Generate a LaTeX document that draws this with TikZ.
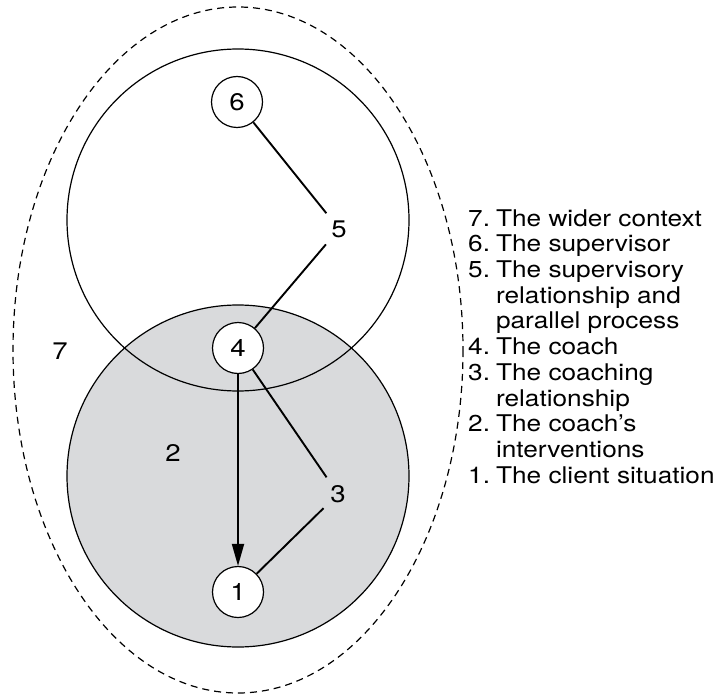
\documentclass[tikz,border=0pt]{standalone}
\usepackage{fontspec}
\setmainfont{TeX Gyre Heros}[FakeStretch=1.15]
\newfontfamily\keyfont{TeX Gyre Heros}[FakeStretch=1.14]
\usetikzlibrary{arrows.meta}
\definecolor{softgray}{RGB}{217,218,220}
\begin{document}
\begin{tikzpicture}[x=1pt,y=-1pt,
  outline/.style={line width=1.2pt},
  link/.style={line width=1.9pt},
  numnode/.style={circle,draw,fill=white,line width=1.2pt,minimum size=51pt,inner sep=0pt,font=\fontsize{24}{26}\selectfont},
  bare/.style={circle,minimum size=40pt,inner sep=0pt,font=\fontsize{24}{26}\selectfont},
  plain/.style={inner sep=0pt,font=\fontsize{24}{26}\selectfont}]
\useasboundingbox (0,0) rectangle (722,695);
% wider context
\draw[outline,dashed,dash pattern=on 7pt off 5pt] (238,350) ellipse [x radius=225, y radius=343];
% coaching circle (shaded) and supervision circle
\fill[softgray] (238,476) circle [radius=171];
\draw[outline] (238,220) circle [radius=171];
\draw[outline] (238,476) circle [radius=171];
% nodes
\node[numnode] (n6) at (237,102) {6};
\node[bare] (n5) at (339,229) {5};
\node[numnode] (n4) at (238,348) {4};
\node[bare] (n3) at (338,494) {3};
\node[numnode] (n1) at (238,592) {1};
\node[plain] (n2) at (173,453) {2};
\node[plain] (n7) at (60,351) {7};
% connectors
\draw[link] (n6) -- (n5);
\draw[link] (n5) -- (n4);
\draw[link] (n4) -- (n3);
\draw[link] (n3) -- (n1);
\draw[link,-{Triangle[length=22pt,width=12pt]}] (n4) -- (n1);
% legend
\node[anchor=north west,inner sep=0pt,align=left,font=\keyfont\fontsize{23}{25.7}\selectfont] (legend) at (468,208) {%
\begin{tabular}{@{}l@{\hspace{6pt}}l@{}}
7. & The wider context\\
6. & The supervisor\\
5. & The supervisory\\
   & relationship and\\
   & parallel process\\
4. & The coach\\
3. & The coaching\\
   & relationship\\
2. & The coach’s\\
   & interventions\\
1. & The client situation
\end{tabular}};
\end{tikzpicture}
\end{document}
